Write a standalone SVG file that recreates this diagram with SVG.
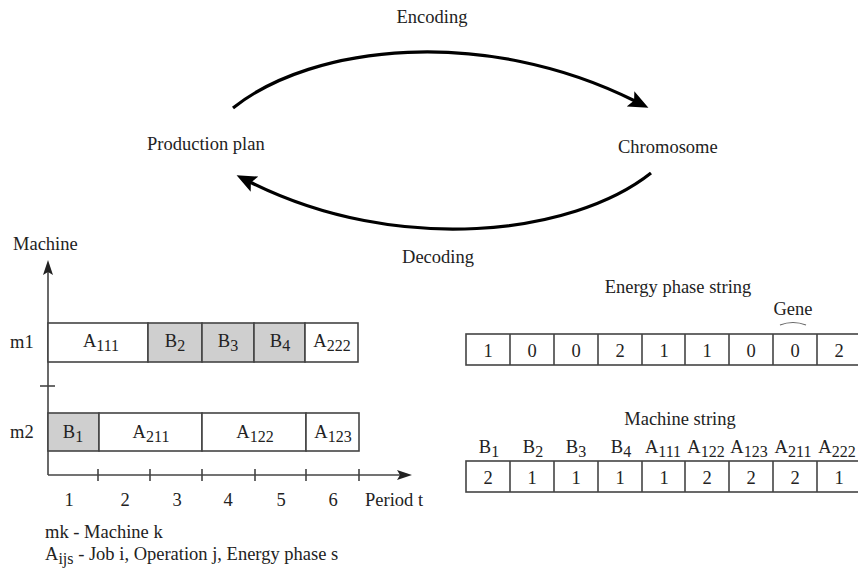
<svg xmlns="http://www.w3.org/2000/svg" width="858" height="572" viewBox="0 0 858 572">
<style>
text{font-family:"Liberation Serif","Times New Roman",serif;font-size:18.5px;fill:#222}
.m{text-anchor:middle}
.s{font-size:16px}
.box{fill:#fff;stroke:#444;stroke-width:1.6}
.g{fill:#cfcfcf;stroke:#444;stroke-width:1.6}
.ln{stroke:#444;stroke-width:1.6;fill:none}
.arc{stroke:#000;stroke-width:3.2;fill:none}
</style>
<defs>
<marker id="big" markerUnits="userSpaceOnUse" markerWidth="22" markerHeight="19" refX="5" refY="8.5" orient="auto" viewBox="0 0 22 17">
<path d="M0,0 L20,8.5 L0,17 L4,8.5 z" fill="#000"/>
</marker>
<marker id="ax" markerUnits="userSpaceOnUse" markerWidth="16" markerHeight="12" refX="4" refY="5" orient="auto" viewBox="0 0 16 10">
<path d="M0,0 L15,5 L0,10 L3,5 z" fill="#222"/>
</marker>
</defs>

<g id="production-plan"><text x="147" y="150">Production plan</text></g>
<g id="chromosome"><text x="618" y="153">Chromosome</text></g>

<g id="connectors">
<path class="arc" d="M233,108 C313,44 485,26 635,101" marker-end="url(#big)"/>
<path class="arc" d="M651,173 C573,235 398,256 250,182" marker-end="url(#big)"/>
<text class="m" x="432" y="23">Encoding</text>
<text class="m" x="438" y="263">Decoding</text>
</g>

<g id="gantt">
<text x="13" y="250">Machine</text>
<line class="ln" x1="48" y1="475" x2="48" y2="271" marker-end="url(#ax)"/>
<line class="ln" x1="48" y1="475" x2="401" y2="475" marker-end="url(#ax)"/>
<line class="ln" x1="40" y1="386" x2="55" y2="386"/>
<g class="ln">
<line x1="98" y1="469" x2="98" y2="481"/>
<line x1="150" y1="469" x2="150" y2="481"/>
<line x1="202" y1="469" x2="202" y2="481"/>
<line x1="255" y1="469" x2="255" y2="481"/>
<line x1="306" y1="469" x2="306" y2="481"/>
<line x1="359" y1="469" x2="359" y2="481"/>
</g>
<text x="10" y="348">m1</text>
<text x="10" y="438">m2</text>
<rect class="box" x="48" y="323" width="100" height="39"/>
<rect class="g" x="148" y="323" width="54" height="39"/>
<rect class="g" x="202" y="323" width="52" height="39"/>
<rect class="g" x="254" y="323" width="51" height="39"/>
<rect class="box" x="305" y="323" width="53" height="39"/>
<rect class="g" x="48" y="413" width="51" height="38"/>
<rect class="box" x="99" y="413" width="103" height="38"/>
<rect class="box" x="202" y="413" width="104" height="38"/>
<rect class="box" x="306" y="413" width="53" height="38"/>
<text class="m" x="101" y="347">A<tspan class="s" dy="4">111</tspan></text>
<text class="m" x="175" y="347">B<tspan class="s" dy="4">2</tspan></text>
<text class="m" x="228" y="347">B<tspan class="s" dy="4">3</tspan></text>
<text class="m" x="280" y="347">B<tspan class="s" dy="4">4</tspan></text>
<text class="m" x="332" y="347">A<tspan class="s" dy="4">222</tspan></text>
<text class="m" x="73" y="438">B<tspan class="s" dy="4">1</tspan></text>
<text class="m" x="151" y="438">A<tspan class="s" dy="4">211</tspan></text>
<text class="m" x="255" y="438">A<tspan class="s" dy="4">122</tspan></text>
<text class="m" x="333" y="438">A<tspan class="s" dy="4">123</tspan></text>
<text class="m" x="69" y="506">1</text>
<text class="m" x="125" y="506">2</text>
<text class="m" x="177" y="506">3</text>
<text class="m" x="228" y="506">4</text>
<text class="m" x="281" y="506">5</text>
<text class="m" x="333" y="506">6</text>
<text x="365" y="506">Period t</text>
<text x="45" y="538">mk - Machine k</text>
<text x="45" y="560">A<tspan class="s" dy="4">ijs</tspan><tspan dy="-4"> - Job i, Operation j, Energy phase s</tspan></text>
</g>

<g id="energy-phase-string">
<text class="m" x="678" y="293">Energy phase string</text>
<text class="m" x="793" y="315">Gene</text>
<path d="M780,325 Q793,320 806,325" stroke="#666" stroke-width="1.2" fill="none"/>
<rect class="box" x="466" y="334" width="395" height="31"/>
<g class="ln">
<line x1="510" y1="334" x2="510" y2="365"/><line x1="554" y1="334" x2="554" y2="365"/>
<line x1="598" y1="334" x2="598" y2="365"/><line x1="642" y1="334" x2="642" y2="365"/>
<line x1="685" y1="334" x2="685" y2="365"/><line x1="729" y1="334" x2="729" y2="365"/>
<line x1="773" y1="334" x2="773" y2="365"/><line x1="817" y1="334" x2="817" y2="365"/>
</g>
<text class="m" x="488" y="357">1</text>
<text class="m" x="532" y="357">0</text>
<text class="m" x="576" y="357">0</text>
<text class="m" x="620" y="357">2</text>
<text class="m" x="664" y="357">1</text>
<text class="m" x="707" y="357">1</text>
<text class="m" x="751" y="357">0</text>
<text class="m" x="795" y="357">0</text>
<text class="m" x="839" y="357">2</text>
</g>

<g id="machine-string">
<text class="m" x="680" y="425">Machine string</text>
<text class="m" x="489" y="453">B<tspan class="s" dy="4">1</tspan></text>
<text class="m" x="533" y="453">B<tspan class="s" dy="4">2</tspan></text>
<text class="m" x="576" y="453">B<tspan class="s" dy="4">3</tspan></text>
<text class="m" x="621" y="453">B<tspan class="s" dy="4">4</tspan></text>
<text class="m" x="663" y="453">A<tspan class="s" dy="4">111</tspan></text>
<text class="m" x="706" y="453">A<tspan class="s" dy="4">122</tspan></text>
<text class="m" x="749" y="453">A<tspan class="s" dy="4">123</tspan></text>
<text class="m" x="793" y="453">A<tspan class="s" dy="4">211</tspan></text>
<text class="m" x="837" y="453">A<tspan class="s" dy="4">222</tspan></text>
<rect class="box" x="466" y="461" width="395" height="31"/>
<g class="ln">
<line x1="510" y1="461" x2="510" y2="492"/><line x1="554" y1="461" x2="554" y2="492"/>
<line x1="598" y1="461" x2="598" y2="492"/><line x1="642" y1="461" x2="642" y2="492"/>
<line x1="685" y1="461" x2="685" y2="492"/><line x1="729" y1="461" x2="729" y2="492"/>
<line x1="773" y1="461" x2="773" y2="492"/><line x1="817" y1="461" x2="817" y2="492"/>
</g>
<text class="m" x="488" y="484">2</text>
<text class="m" x="532" y="484">1</text>
<text class="m" x="576" y="484">1</text>
<text class="m" x="620" y="484">1</text>
<text class="m" x="664" y="484">1</text>
<text class="m" x="707" y="484">2</text>
<text class="m" x="751" y="484">2</text>
<text class="m" x="795" y="484">2</text>
<text class="m" x="839" y="484">1</text>
</g>
</svg>
